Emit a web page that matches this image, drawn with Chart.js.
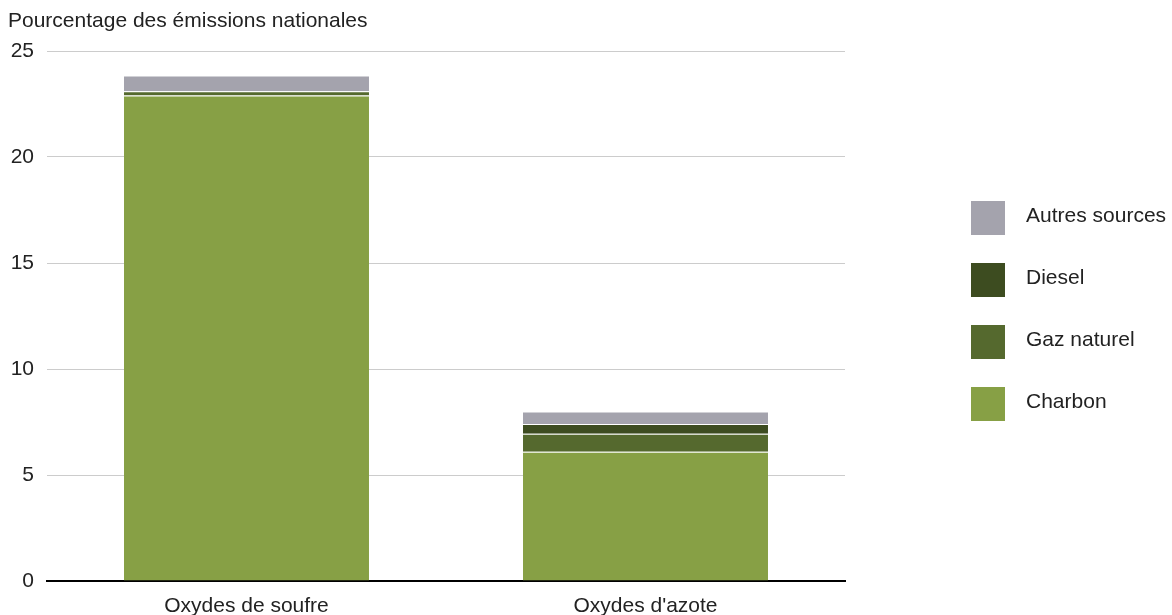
<!DOCTYPE html>
<html lang="fr">
<head>
<meta charset="utf-8">
<title>Émissions nationales</title>
<script src="https://cdn.jsdelivr.net/npm/chart.js@4"></script>
<style>
	html, body { margin: 0; padding: 0; background: #fff; }
	#wrap { width: 1172px; height: 615px; position: relative; }
</style>
</head>
<body>
<div id="wrap"><canvas id="chartEmissions"></canvas></div>
<script>
var categories = ['Oxydes de soufre', "Oxydes d'azote"];
var charbon = [22.9, 6.1];
var gazNaturel = [0.2, 0.85];
var diesel = [0, 0.45];
var autresSources = [0.75, 0.6];
var yTicks = [0, 5, 10, 15, 20, 25];

var FONT = '"Liberation Sans", Arial, sans-serif';
var TEXT = '#222';

// titre de l'axe en haut à gauche + légende à droite
var decorations = {
	id: 'decorations',
	afterDraw: function (chart) {
		var ctx = chart.ctx;
		ctx.save();
		ctx.font = '21px ' + FONT;
		ctx.fillStyle = TEXT;
		ctx.textBaseline = 'alphabetic';
		ctx.textAlign = 'left';
		ctx.fillText('Pourcentage des émissions nationales', 8, 27);

		var sets = chart.data.datasets.slice().reverse();
		sets.forEach(function (ds, i) {
			var cy = 218 + i * 62;
			ctx.fillStyle = ds.backgroundColor;
			ctx.fillRect(971, cy - 17, 34, 34);
			ctx.fillStyle = TEXT;
			ctx.fillText(ds.label, 1026, cy + 3.5);
		});
		ctx.restore();
	}
};

function segment(label, data, color) {
	return {
		label: label,
		data: data,
		backgroundColor: color,
		borderColor: 'rgba(255,255,255,0.55)',
		borderWidth: { top: 1, bottom: 0, left: 0, right: 0 },
		borderSkipped: false,
		barPercentage: 0.614,
		categoryPercentage: 1
	};
}

new Chart(document.getElementById('chartEmissions'), {
	type: 'bar',
	data: {
		labels: categories,
		datasets: [
			segment('Charbon', charbon, '#87a045'),
			segment('Gaz naturel', gazNaturel, '#55692e'),
			segment('Diesel', diesel, '#3d4c20'),
			segment('Autres sources', autresSources, '#a4a3ad')
		]
	},
	options: {
		responsive: true,
		maintainAspectRatio: false,
		animation: false,
		layout: { padding: { top: 51, right: 327, left: 0, bottom: 0 } },
		plugins: {
			legend: { display: false },
			tooltip: { enabled: false }
		},
		scales: {
			x: {
				stacked: true,
				afterFit: function (scale) { scale.height = 34; },
				grid: { display: false },
				border: { display: true, color: '#000', width: 2 },
				ticks: { font: { size: 21, family: FONT }, color: TEXT, padding: 5 }
			},
			y: {
				stacked: true,
				min: 0,
				max: 25,
				afterFit: function (scale) { scale.width = 47; },
				afterBuildTicks: function (scale) {
					scale.ticks = yTicks.map(function (v) { return { value: v }; });
				},
				grid: { color: '#cccccc', drawTicks: false },
				border: { display: false },
				ticks: { font: { size: 21, family: FONT }, color: TEXT, padding: 13 }
			}
		}
	},
	plugins: [decorations]
});
</script>
</body>
</html>
